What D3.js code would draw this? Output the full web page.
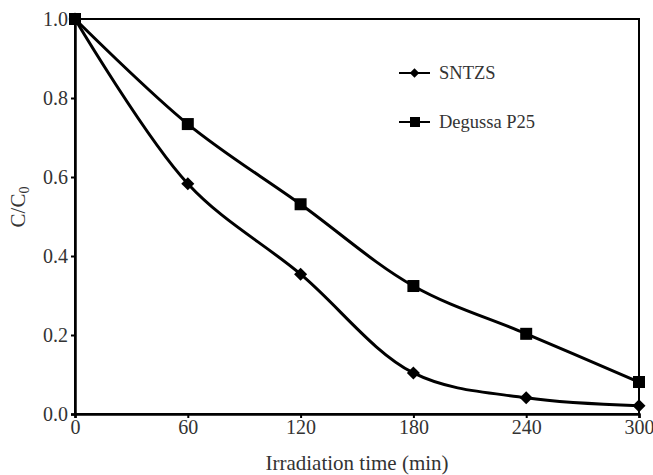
<!DOCTYPE html>
<html><head><meta charset="utf-8">
<script src="https://cdn.jsdelivr.net/npm/d3@7"></script>
<style>body{margin:0;background:#fff}svg{display:block} text{font-family:"Liberation Serif","DejaVu Serif","Times New Roman",serif}</style>
</head><body>
<script>
const times = [0, 60, 120, 180, 240, 300];
const sntzs = [1.0, 0.583, 0.354, 0.104, 0.041, 0.021];
const degussa = [1.0, 0.734, 0.531, 0.324, 0.203, 0.081];
const seriesNames = ["SNTZS", "Degussa P25"];
const xTicks = [0, 60, 120, 180, 240, 300];
const yTicks = [0, 0.2, 0.4, 0.6, 0.8, 1.0];

const W = 653, H = 475;
const m = {l: 75, r: 14, t: 19, b: 61};
const svg = d3.select("body").append("svg").attr("width", W).attr("height", H);
const x = d3.scaleLinear().domain([0, 300]).range([m.l, W - m.r]);
const y = d3.scaleLinear().domain([0, 1]).range([H - m.b, m.t]);
const font = "Liberation Serif, DejaVu Serif, serif";
const txt = "#333";

// frame
svg.append("rect").attr("x", x(0)).attr("y", y(1)).attr("width", x(300) - x(0)).attr("height", y(0) - y(1))
  .attr("fill", "none").attr("stroke", "#000").attr("stroke-width", 2);

const xa = svg.append("g").attr("transform", `translate(0,${y(0)})`)
  .call(d3.axisBottom(x).tickValues(xTicks).tickSize(4).tickPadding(2).tickFormat(d3.format("d")));
const ya = svg.append("g").attr("transform", `translate(${x(0)},0)`)
  .call(d3.axisLeft(y).tickValues(yTicks).tickSize(4).tickPadding(3).tickFormat(d3.format(".1f")));
[xa, ya].forEach(a => {
  a.select(".domain").attr("stroke", "#000").attr("stroke-width", 2.5);
  a.selectAll(".tick line").attr("stroke", "#000").attr("stroke-width", 2);
  a.selectAll(".tick text").attr("font-family", font).attr("font-size", 20).attr("fill", txt);
});

const line = d3.line().x((d, i) => x(times[i])).y(d => y(d)).curve(d3.curveCatmullRom.alpha(0.5));
const g = svg.append("g");
[sntzs, degussa].forEach(s => {
  g.append("path").attr("d", line(s)).attr("fill", "none").attr("stroke", "#000").attr("stroke-width", 3);
});
const diamond = d3.symbol().type(d3.symbolSquare).size(85);
g.selectAll(".dia").data(sntzs).join("path")
  .attr("d", diamond).attr("transform", (d, i) => `translate(${x(times[i])},${y(d)}) rotate(45)`).attr("fill", "#000");
g.selectAll(".sq").data(degussa).join("rect")
  .attr("x", (d, i) => x(times[i]) - 6).attr("y", d => y(d) - 6).attr("width", 12).attr("height", 12).attr("fill", "#000");

// legend
const leg = svg.append("g");
const ly = [73, 122];
seriesNames.forEach((n, i) => {
  leg.append("line").attr("x1", 399).attr("x2", 430).attr("y1", ly[i]).attr("y2", ly[i]).attr("stroke", "#000").attr("stroke-width", 2);
  if (i === 0) leg.append("path").attr("d", d3.symbol().type(d3.symbolSquare).size(45)).attr("transform", `translate(414.5,${ly[i]}) rotate(45)`);
  else leg.append("rect").attr("x", 410).attr("y", ly[i] - 5).attr("width", 10).attr("height", 10);
  leg.append("text").attr("x", 439).attr("y", ly[i] + 6).attr("font-family", font).attr("font-size", 18.5).attr("fill", txt).text(n);
});

// axis titles
svg.append("text").attr("x", 357).attr("y", 470).attr("text-anchor", "middle")
  .attr("font-family", font).attr("font-size", 21).attr("fill", txt).text("Irradiation time (min)");
const yt = svg.append("text").attr("transform", `translate(25,207) rotate(-90)`).attr("text-anchor", "middle")
  .attr("font-family", font).attr("font-size", 21).attr("fill", txt);
yt.append("tspan").text("C/C");
yt.append("tspan").attr("font-size", 14).attr("dy", 4).text("0");
</script>
</body></html>
